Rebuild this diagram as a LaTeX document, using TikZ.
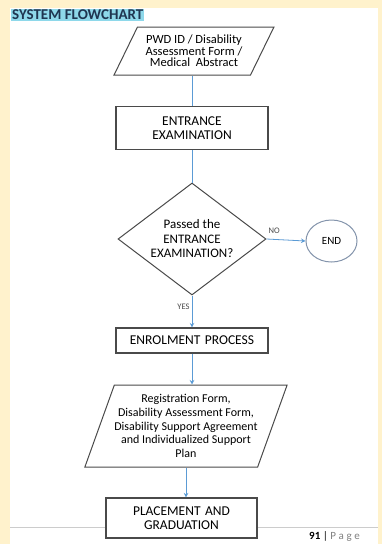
\documentclass[tikz,border=0pt]{standalone}
\usepackage{fontspec}
\setmainfont{Carlito}
\usetikzlibrary{shapes.geometric,arrows.meta,positioning}
\definecolor{pagecream}{HTML}{FFF2CC}
\definecolor{flowblue}{HTML}{5B9BD5}
\definecolor{edgegray}{HTML}{4A4A4A}
\definecolor{titlecyan}{HTML}{8ED8EA}
\definecolor{titleink}{HTML}{1F3550}
\definecolor{endgray}{HTML}{8494AC}

\begin{document}
\begin{tikzpicture}[x=1pt, y=-1pt]
    %
    \useasboundingbox (0,0) rectangle (382,544);
    \fill[pagecream] (0,0) rectangle (382,544);
    \fill[white] (10,8) rectangle (378,544);
    \draw[gray!40, thick] (10,527) -- (378,527);

    %
    \tikzset{
        box/.style={draw=edgegray, line width=1.1pt, fill=white, minimum width=152pt, text width=146pt, align=center, inner sep=2pt, font=\fontsize{13.5}{14.5}\selectfont},
        datain/.style={trapezium, trapezium stretches=true, draw=edgegray, line width=1pt, fill=white, align=center, inner sep=0pt},
        decide/.style={diamond, draw=edgegray, line width=1pt, align=center, aspect=1.32, minimum width=148pt, minimum height=112pt, inner sep=0pt, font=\fontsize{13}{14.5}\selectfont},
        link/.style={flowblue, thick},
        linkarrow/.style={link, -{Stealth[length=4.5pt, width=4.5pt]}},
        tag/.style={text=edgegray, font=\fontsize{8.5}{9}\selectfont, inner sep=1pt}
    }

    %
    \node[fill=titlecyan, text=titleink, font=\bfseries\fontsize{15}{16}\selectfont, inner sep=1pt, anchor=west] (title) at (11,15) {SYSTEM FLOWCHART};

    %
    \node[datain, trapezium left angle=58, trapezium right angle=122, minimum width=160pt, minimum height=48pt, font=\fontsize{12.5}{11.7}\selectfont] (docs) at (194,51) {PWD ID / Disability\\Assessment Form /\\Medical\ \ Abstract};
    \node[box, minimum height=43pt] (entry) at (192,128) {ENTRANCE\\EXAMINATION};
    \node[decide] (check) at (192,239) {Passed the\\ENTRANCE\\EXAMINATION?};
    \node[ellipse, draw=endgray, line width=1pt, minimum width=51pt, minimum height=42pt, inner sep=0pt, font=\fontsize{11}{12}\selectfont] (finish) at (331.5,241) {END};
    \node[box, minimum height=25pt] (enrol) at (192,340.5) {ENROLMENT PROCESS};
    \node[datain, trapezium left angle=65, trapezium right angle=115, minimum width=197pt, minimum height=82pt, font=\fontsize{12}{13.7}\selectfont] (forms) at (186,426) {Registration Form,\\Disability Assessment Form,\\Disability Support Agreement\\and Individualized Support\\Plan};
    \node[box, minimum width=151pt, minimum height=40pt] (place) at (181.5,518) {PLACEMENT AND\\GRADUATION};

    %
    \draw[link] (entry.north |- docs.south) -- (entry.north);
    \draw[link] (entry.south) -- (entry.south |- check.north);
    \draw[linkarrow] (check.east) -- (finish.west) node[tag, pos=0.2, above=4pt] {NO};
    \draw[linkarrow] (check.south) -- (enrol.north) node[tag, pos=0.35, left, xshift=-1pt] {YES};
    \draw[linkarrow] (enrol.south) -- (enrol.south |- forms.north);
    \draw[linkarrow] (forms.south) -- (forms.south |- place.north);

    %
    \node[anchor=west, font=\fontsize{11}{12}\selectfont, inner sep=0pt] (pagenum) at (309,536) {\textbf{91} | \textcolor{gray}{\addfontfeature{LetterSpace=25}Page}};

\end{tikzpicture}
\end{document}
